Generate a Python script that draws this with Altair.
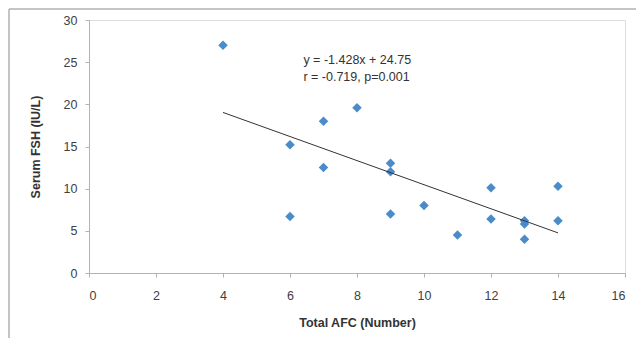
import altair as alt
import pandas as pd

afc = [4, 6, 6, 7, 7, 8, 9, 9, 9, 10, 11, 12, 12, 13, 13, 13, 14, 14]
fsh = [27.0, 15.2, 6.7, 18.0, 12.5, 19.6, 13.0, 12.0, 7.0, 8.0, 4.5, 10.1, 6.4, 6.2, 5.8, 4.0, 10.3, 6.2]

slope = -1.428
intercept = 24.75
trend_x = [4, 14]
trend_y = [slope * v + intercept for v in trend_x]

annot_lines = ["y = -1.428x + 24.75", "r = -0.719, p=0.001"]
annot_x = [6.4, 6.4]
annot_y = [25.2, 23.3]

pts = pd.DataFrame({"afc": afc, "fsh": fsh})
trend = pd.DataFrame({"afc": trend_x, "fsh": trend_y})
annot = pd.DataFrame({"afc": annot_x, "fsh": annot_y, "t": annot_lines})

FONT = "Liberation Sans"
xs = alt.Scale(domain=[0, 16], nice=False)
ys = alt.Scale(domain=[0, 30], nice=False)

xax = alt.Axis(values=list(range(0, 17, 2)), title="Total AFC (Number)", grid=False,
               domainColor="#b3b3b3", tickColor="#b3b3b3", tickSize=4,
               labelColor="#404040", labelFontSize=12.5, labelPadding=12,
               titleFontSize=12.5, titleFontWeight="bold", titleColor="#333333",
               titlePadding=15, labelFont=FONT, titleFont=FONT)
yax = alt.Axis(values=list(range(0, 31, 5)), title="Serum FSH (IU/L)", grid=False,
               domainColor="#b3b3b3", tickColor="#b3b3b3", tickSize=4,
               labelColor="#404040", labelFontSize=12.5, labelPadding=8,
               titleFontSize=12.5, titleFontWeight="bold", titleColor="#333333",
               titlePadding=21, labelFont=FONT, titleFont=FONT)

points = alt.Chart(pts).mark_point(shape="diamond", filled=True, size=90, color="#4a8bc9", opacity=1).encode(
    x=alt.X("afc:Q", scale=xs, axis=xax),
    y=alt.Y("fsh:Q", scale=ys, axis=yax),
)

line = alt.Chart(trend).mark_line(color="#333333", strokeWidth=1).encode(
    x=alt.X("afc:Q", scale=xs),
    y=alt.Y("fsh:Q", scale=ys),
)

text = alt.Chart(annot).mark_text(align="left", baseline="middle", fontSize=12.5, font=FONT, color="#333333").encode(
    x=alt.X("afc:Q", scale=xs),
    y=alt.Y("fsh:Q", scale=ys),
    text="t:N",
)

border_top = alt.Chart(pd.DataFrame({"a": [0]})).mark_rule(color="#b0b0b0", strokeWidth=1.5).encode(
    x=alt.value(-80), x2=alt.value(560), y=alt.value(-11)
)
border_left = alt.Chart(pd.DataFrame({"a": [0]})).mark_rule(color="#b0b0b0", strokeWidth=1.5).encode(
    x=alt.value(-80), y=alt.value(-11), y2=alt.value(330)
)

chart = alt.layer(points, line, text, border_top, border_left).properties(
    width=536, height=253,
    autosize=alt.AutoSizeParams(type="none"),
    padding={"left": 81, "top": 12, "right": 11, "bottom": 65},
).configure_view(stroke=None).configure(background="white")

chart.save("out.html", embed_options={"renderer": "svg", "actions": False})
